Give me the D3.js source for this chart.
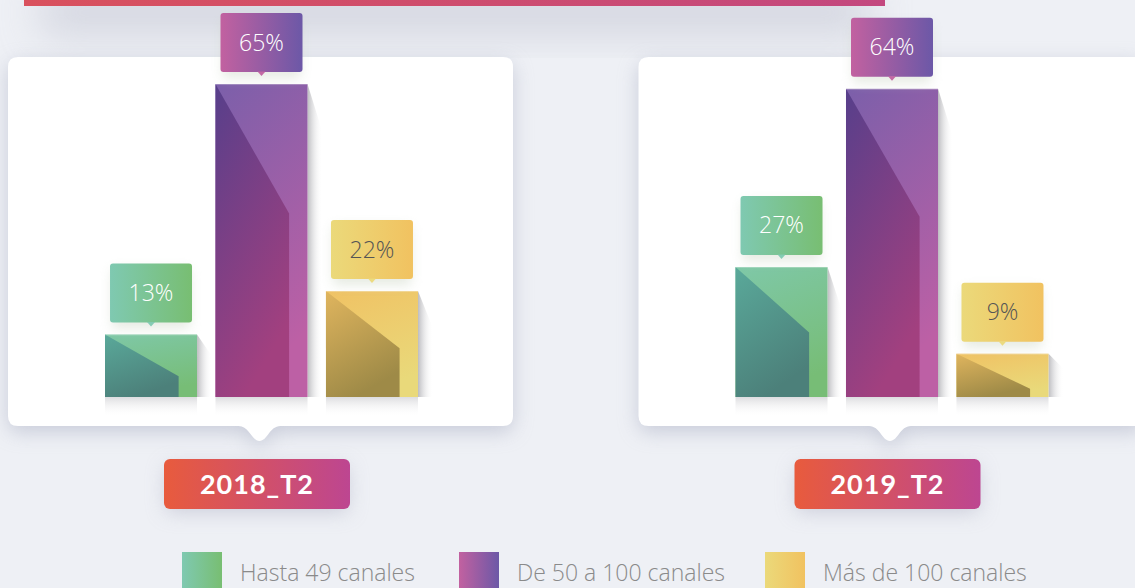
<!DOCTYPE html>
<html>
<head>
<meta charset="utf-8">
<script src="https://cdn.jsdelivr.net/npm/d3@7"></script>
<style>
  html, body { margin: 0; padding: 0; background: #eef0f5; overflow: hidden; }
  svg { display: block; }
</style>
</head>
<body>
<svg id="chart" width="1135" height="588"></svg>
<script>
// Subscription share by number of TV channels, per quarter
const periods = ["2018_T2", "2019_T2"];
const categories = ["Hasta 49 canales", "De 50 a 100 canales", "Más de 100 canales"];
const share2018 = [13, 65, 22];
const share2019 = [27, 64, 9];
const seriesByPeriod = [share2018, share2019];

// colour stops per category: label/legend gradient, bar body, bar facet
const labelStops = [["#7fc9b1", "#78be72"], ["#c261a0", "#6c58a7"], ["#ebd97a", "#f1c260"]];
const bodyStops  = [["#7fc8a8", "#77bd76"], ["#7b5faa", "#bd60a5"], ["#f0c264", "#e9d97a"]];
const facetStops = [["#5aa99a", "#4c807a"], ["#573f8b", "#a2407f"], ["#e0b55e", "#9e8a47"]];
const labelText  = ["#ffffff", "#ffffff", "#555555"];

const W = 1135, H = 588;
const svg = d3.select("#chart");
const defs = svg.append("defs");

function linGrad(id, stops, x2, y2) {
  const g = defs.append("linearGradient").attr("id", id)
    .attr("x1", 0).attr("y1", 0).attr("x2", x2).attr("y2", y2);
  stops.forEach((c, i) => g.append("stop").attr("offset", i / (stops.length - 1)).attr("stop-color", c));
  return g;
}
categories.forEach((c, i) => {
  linGrad("lab" + i, labelStops[i], 1, 0);
  linGrad("body" + i, bodyStops[i], 0.3, 1);
  linGrad("facet" + i, facetStops[i], 0.4, 1);
});
linGrad("banner", ["#d9515d", "#c3487f"], 1, 0);
linGrad("year", ["#e85b3d", "#bd4691"], 1, 0);
const sideShade = defs.append("linearGradient").attr("id", "sideShade").attr("x1", 0).attr("x2", 1).attr("y1", 0).attr("y2", 0);
sideShade.append("stop").attr("offset", 0).attr("stop-color", "#b9b9bd").attr("stop-opacity", 0.95);
sideShade.append("stop").attr("offset", 1).attr("stop-color", "#ffffff").attr("stop-opacity", 0);
const floorShade = defs.append("linearGradient").attr("id", "floorShade").attr("x1", 0).attr("x2", 0).attr("y1", 0).attr("y2", 1);
floorShade.append("stop").attr("offset", 0).attr("stop-color", "#d9d9dc").attr("stop-opacity", 0.9);
floorShade.append("stop").attr("offset", 1).attr("stop-color", "#ffffff").attr("stop-opacity", 0);

function blurFilter(id, sd) {
  defs.append("filter").attr("id", id).attr("x", "-50%").attr("y", "-50%").attr("width", "200%").attr("height", "200%")
    .append("feGaussianBlur").attr("stdDeviation", sd);
}
blurFilter("blur20", 20);
blurFilter("blur10", 10);
blurFilter("blur6", 6);

// background
svg.append("rect").attr("width", W).attr("height", H).attr("fill", "#eef0f5");

// top banner with its soft shadow
svg.append("rect").attr("x", 40).attr("y", -10).attr("width", 830).attr("height", 45)
  .attr("fill", "#b9bccb").attr("opacity", 0.5).attr("filter", "url(#blur20)");
svg.append("rect").attr("x", 24).attr("y", -4).attr("width", 861).attr("height", 10)
  .attr("fill", "url(#banner)");

// scales
const baseY = 397;
const xPeriod = d3.scalePoint().domain(periods).range([261.5, 892]);
const y = d3.scaleLinear().domain([0, 65]).range([baseY, 84]);
const xCat = d3.scaleBand().domain(categories).range([-156.5, 156.5]).paddingInner(0.167).paddingOuter(0);
const bw = xCat.bandwidth();

// panel shape: rounded card with a pointer under its centre
function panelPath(x0, x1, top, bottom, px) {
  const r = 10, hw = 21, ph = 15;
  const p = d3.path();
  p.moveTo(x0 + r, top);
  p.lineTo(x1 - r, top); p.quadraticCurveTo(x1, top, x1, top + r);
  p.lineTo(x1, bottom - r); p.quadraticCurveTo(x1, bottom, x1 - r, bottom);
  p.lineTo(px + hw, bottom);
  p.bezierCurveTo(px + 10, bottom, px + 8, bottom + ph, px, bottom + ph);
  p.bezierCurveTo(px - 8, bottom + ph, px - 10, bottom, px - hw, bottom);
  p.lineTo(x0 + r, bottom); p.quadraticCurveTo(x0, bottom, x0, bottom - r);
  p.lineTo(x0, top + r); p.quadraticCurveTo(x0, top, x0 + r, top);
  p.closePath();
  return p.toString();
}

periods.forEach((period, pi) => {
  const cx = xPeriod(period);
  const g = svg.append("g");
  const x0 = cx - 253.5, x1 = cx + 251.5;
  const d = panelPath(x0, x1, 57, 426, cx - 2);
  g.append("path").attr("d", d).attr("fill", "#a9aec2").attr("opacity", 0.55)
    .attr("transform", "translate(0,6)").attr("filter", "url(#blur10)");
  g.append("path").attr("d", d).attr("fill", "#ffffff");

  const vals = seriesByPeriod[pi];
  categories.forEach((cat, ci) => {
    const v = vals[ci];
    const bx = cx + xCat(cat);
    const top = y(v);
    const h = baseY - top;
    const bg = g.append("g");
    // floor reflection
    bg.append("rect").attr("x", bx).attr("y", baseY).attr("width", bw).attr("height", 20).attr("fill", "url(#floorShade)");
    // side shadow
    const sdy = Math.min(48, 0.35 * h);
    bg.append("path")
      .attr("d", `M${bx + bw},${top} L${bx + bw + 15},${top + sdy} L${bx + bw + 15},${baseY} L${bx + bw},${baseY} Z`)
      .attr("fill", "url(#sideShade)");
    // bar body
    bg.append("rect").attr("x", bx).attr("y", top).attr("width", bw).attr("height", h).attr("fill", `url(#body${ci})`);
    // darker facet
    const fx = bx + bw * 0.8;
    const fdy = Math.min(h, 20 + 0.35 * h);
    bg.append("path")
      .attr("d", `M${bx},${top} L${fx},${top + fdy} L${fx},${baseY} L${bx},${baseY} Z`)
      .attr("fill", `url(#facet${ci})`);
    bg.append("line").attr("x1", bx).attr("x2", bx + bw).attr("y1", top + 0.5).attr("y2", top + 0.5)
      .attr("stroke", "#ffffff").attr("stroke-opacity", 0.25);

    // value label box with pointer
    const lw = 82, lh = 59;
    const lx = bx + bw / 2 - lw / 2, lb = top - 12;
    const lg = g.append("g");
    lg.append("rect").attr("x", lx + 2).attr("y", lb - lh + 6).attr("width", lw - 4).attr("height", lh)
      .attr("fill", "#c8d2c0").attr("opacity", 0.45).attr("filter", "url(#blur6)");
    lg.append("rect").attr("x", lx).attr("y", lb - lh).attr("width", lw).attr("height", lh).attr("rx", 3)
      .attr("fill", `url(#lab${ci})`);
    lg.append("path")
      .attr("d", `M${bx + bw / 2 - 4},${lb - 0.5} L${bx + bw / 2},${lb + 4} L${bx + bw / 2 + 4},${lb - 0.5} Z`)
      .attr("fill", labelStops[ci][0]).attr("opacity", 0.95);
    lg.append("text").attr("x", bx + bw / 2).attr("y", lb - lh / 2 + 8)
      .attr("text-anchor", "middle").attr("font-family", "'Open Sans', sans-serif").attr("font-weight", 300)
      .attr("font-size", 23).attr("fill", labelText[ci]).text(v + "%");
  });

  // period tag
  const tx = cx - 4.5;
  const tg = svg.append("g");
  tg.append("rect").attr("x", tx - 91).attr("y", 466).attr("width", 182).attr("height", 46)
    .attr("fill", "#b4b6c8").attr("opacity", 0.6).attr("filter", "url(#blur10)");
  tg.append("rect").attr("x", tx - 93).attr("y", 459).attr("width", 186).attr("height", 50).attr("rx", 6)
    .attr("fill", "url(#year)");
  tg.append("text").attr("x", tx).attr("y", 494).attr("text-anchor", "middle")
    .attr("font-family", "Lato, sans-serif").attr("font-weight", 700).attr("font-size", 27)
    .attr("letter-spacing", 1).attr("fill", "#ffffff").text(period);
});

// legend
const legendX = [182, 459, 765];
const lgd = svg.append("g");
categories.forEach((cat, ci) => {
  lgd.append("rect").attr("x", legendX[ci]).attr("y", 552).attr("width", 40).attr("height", 40)
    .attr("fill", `url(#lab${ci})`);
  lgd.append("text").attr("x", legendX[ci] + 58).attr("y", 581)
    .attr("font-family", "'Open Sans', sans-serif").attr("font-weight", 300).attr("font-size", 23)
    .attr("fill", "#8a8a8a").text(cat);
});
</script>
</body>
</html>
